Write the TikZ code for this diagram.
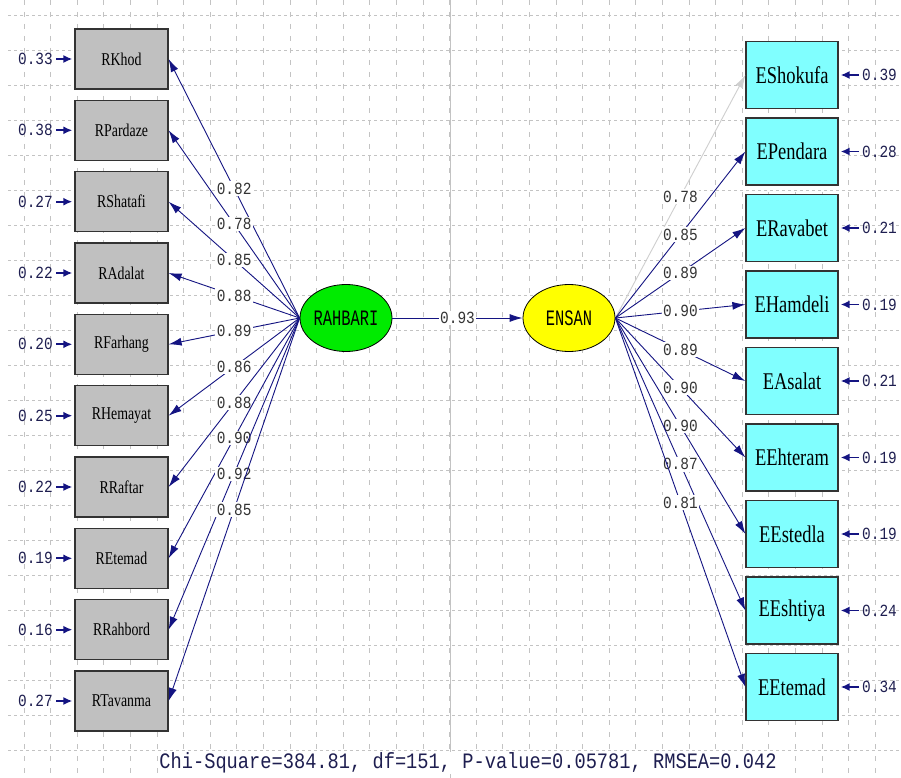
\documentclass[tikz,border=0pt]{standalone}
\usepackage{fontspec}
\setmainfont{Liberation Serif}
\newfontfamily\boxfont[FakeStretch=0.77]{Liberation Serif}
\newfontfamily\numfont[FakeStretch=0.85]{Liberation Mono}
\newfontfamily\latfont[FakeStretch=0.7]{Liberation Mono}
\usetikzlibrary{arrows.meta,shapes.geometric}
\definecolor{lisnavy}{RGB}{20,20,130}
\definecolor{numnavy}{RGB}{30,30,80}
\definecolor{boxgray}{RGB}{192,192,192}
\definecolor{boxcyan}{RGB}{128,255,255}
\definecolor{latgreen}{RGB}{0,235,0}
\definecolor{latyellow}{RGB}{255,255,0}
\definecolor{gridgray}{RGB}{195,195,195}
\begin{document}
\begin{tikzpicture}[x=1pt,y=-1pt,
  lbox/.style={draw=black!80,line width=1.2pt,fill=boxgray,minimum width=93pt,minimum height=60pt,inner sep=0pt,font=\boxfont\fontsize{18}{18}\selectfont},
  rbox/.style={draw=black!80,line width=1.2pt,fill=boxcyan,minimum width=92pt,minimum height=67pt,inner sep=0pt,font=\boxfont\fontsize{24}{24}\selectfont},
  latent/.style={ellipse,draw=black,line width=0.8pt,minimum width=92pt,minimum height=67pt,inner sep=0pt,font=\latfont\fontsize{22}{22}\selectfont},
  errlab/.style={inner sep=0pt,text=numnavy,font=\numfont\fontsize{17}{17}\selectfont},
  coef/.style={fill=white,inner sep=1.5pt,text=black!80,font=\numfont\fontsize{17}{17}\selectfont},
  load/.style={lisnavy,line width=0.9pt,-{Latex[length=13pt,width=8pt]}},
  errarr/.style={lisnavy,line width=1.8pt,-{Latex[length=9pt,width=8pt]},shorten <=3pt,shorten >=2pt},
  hgrid/.style={gridgray,line width=0.7pt,dash pattern=on 3pt off 3pt},
  vgrid/.style={gridgray,line width=0.7pt,dash pattern=on 5pt off 7pt}]
\useasboundingbox (0,0) rectangle (901,778);
\fill[white] (0,0) rectangle (901,778);
% grid
\foreach \gy in {0,...,21} \draw[hgrid] (8,{15+35*\gy}) -- (901,{15+35*\gy});
\foreach \gx in {0,...,32} \draw[vgrid] ({24+26.6*\gx},0) -- ({24+26.6*\gx},778);
\draw[gridgray,line width=0.8pt] (450,0) -- (450,778);
% latent variables
\node[latent,fill=latgreen] (rahbari) at (346,318) {RAHBARI};
\node[latent,fill=latyellow] (ensan) at (569,318) {ENSAN};
\draw[load] (rahbari) -- node[coef]{0.93} (ensan);
% RAHBARI indicators
\node[lbox] (khod) at (121.5,59) {RKhod};
\node[lbox] (pardaze) at (121.5,130.3) {RPardaze};
\node[lbox] (shatafi) at (121.5,201.7) {RShatafi};
\node[lbox] (adalat) at (121.5,273) {RAdalat};
\node[lbox] (farhang) at (121.5,344.3) {RFarhang};
\node[lbox] (hemayat) at (121.5,415.7) {RHemayat};
\node[lbox] (raftar) at (121.5,487) {RRaftar};
\node[lbox] (etemadR) at (121.5,558.3) {REtemad};
\node[lbox] (rahbord) at (121.5,629.7) {RRahbord};
\node[lbox] (tavanma) at (121.5,701) {RTavanma};
\draw[load] (rahbari.west) -- node[coef]{0.82} (khod.east);
\draw[load] (rahbari.west) -- node[coef]{0.78} (pardaze.east);
\draw[load] (rahbari.west) -- node[coef]{0.85} (shatafi.east);
\draw[load] (rahbari.west) -- node[coef]{0.88} (adalat.east);
\draw[load] (rahbari.west) -- node[coef]{0.89} (farhang.east);
\draw[load] (rahbari.west) -- node[coef]{0.86} (hemayat.east);
\draw[load] (rahbari.west) -- node[coef]{0.88} (raftar.east);
\draw[load] (rahbari.west) -- node[coef]{0.90} (etemadR.east);
\draw[load] (rahbari.west) -- node[coef]{0.92} (rahbord.east);
\draw[load] (rahbari.west) -- node[coef]{0.85} (tavanma.east);
\node[errlab,anchor=east] (ekhod) at (53,59) {0.33};
\node[errlab,anchor=east] (epardaze) at (53,130.3) {0.38};
\node[errlab,anchor=east] (eshatafi) at (53,201.7) {0.27};
\node[errlab,anchor=east] (eadalat) at (53,273) {0.22};
\node[errlab,anchor=east] (efarhang) at (53,344.3) {0.20};
\node[errlab,anchor=east] (ehemayat) at (53,415.7) {0.25};
\node[errlab,anchor=east] (eraftar) at (53,487) {0.22};
\node[errlab,anchor=east] (eetemadR) at (53,558.3) {0.19};
\node[errlab,anchor=east] (erahbord) at (53,629.7) {0.16};
\node[errlab,anchor=east] (etavanma) at (53,701) {0.27};
\draw[errarr] (ekhod) -- (khod);
\draw[errarr] (epardaze) -- (pardaze);
\draw[errarr] (eshatafi) -- (shatafi);
\draw[errarr] (eadalat) -- (adalat);
\draw[errarr] (efarhang) -- (farhang);
\draw[errarr] (ehemayat) -- (hemayat);
\draw[errarr] (eraftar) -- (raftar);
\draw[errarr] (eetemadR) -- (etemadR);
\draw[errarr] (erahbord) -- (rahbord);
\draw[errarr] (etavanma) -- (tavanma);
% ENSAN indicators
\node[rbox] (shokufa) at (792,75) {EShokufa};
\node[rbox] (pendara) at (792,151.5) {EPendara};
\node[rbox] (ravabet) at (792,228) {ERavabet};
\node[rbox] (hamdeli) at (792,304.5) {EHamdeli};
\node[rbox] (asalat) at (792,381) {EAsalat};
\node[rbox] (ehteram) at (792,457.5) {EEhteram};
\node[rbox] (estedla) at (792,534) {EEstedla};
\node[rbox] (eshtiya) at (792,610.5) {EEshtiya};
\node[rbox] (etemadE) at (792,687) {EEtemad};
\draw[load,gridgray!80] (ensan.east) -- node[coef]{0.78} (shokufa.west);
\draw[load] (ensan.east) -- node[coef]{0.85} (pendara.west);
\draw[load] (ensan.east) -- node[coef]{0.89} (ravabet.west);
\draw[load] (ensan.east) -- node[coef]{0.90} (hamdeli.west);
\draw[load] (ensan.east) -- node[coef]{0.89} (asalat.west);
\draw[load] (ensan.east) -- node[coef]{0.90} (ehteram.west);
\draw[load] (ensan.east) -- node[coef]{0.90} (estedla.west);
\draw[load] (ensan.east) -- node[coef]{0.87} (eshtiya.west);
\draw[load] (ensan.east) -- node[coef]{0.81} (etemadE.west);
\node[errlab,anchor=west] (eshokufa) at (862,75) {0.39};
\node[errlab,anchor=west] (ependara) at (862,151.5) {0.28};
\node[errlab,anchor=west] (eravabet) at (862,228) {0.21};
\node[errlab,anchor=west] (ehamdeli) at (862,304.5) {0.19};
\node[errlab,anchor=west] (easalat) at (862,381) {0.21};
\node[errlab,anchor=west] (eehteram) at (862,457.5) {0.19};
\node[errlab,anchor=west] (eestedla) at (862,534) {0.19};
\node[errlab,anchor=west] (eeshtiya) at (862,610.5) {0.24};
\node[errlab,anchor=west] (eetemadE) at (862,687) {0.34};
\draw[errarr] (eshokufa) -- (shokufa);
\draw[errarr] (ependara) -- (pendara);
\draw[errarr] (eravabet) -- (ravabet);
\draw[errarr] (ehamdeli) -- (hamdeli);
\draw[errarr] (easalat) -- (asalat);
\draw[errarr] (eehteram) -- (ehteram);
\draw[errarr] (eestedla) -- (estedla);
\draw[errarr] (eeshtiya) -- (eshtiya);
\draw[errarr] (eetemadE) -- (etemadE);
% fit statistics
\node[fill=white,inner sep=1pt,text=numnavy,font=\numfont\fontsize{22}{22}\selectfont] (fitstat) at (468,763) {Chi-Square=384.81, df=151, P-value=0.05781, RMSEA=0.042};
\end{tikzpicture}
\end{document}
